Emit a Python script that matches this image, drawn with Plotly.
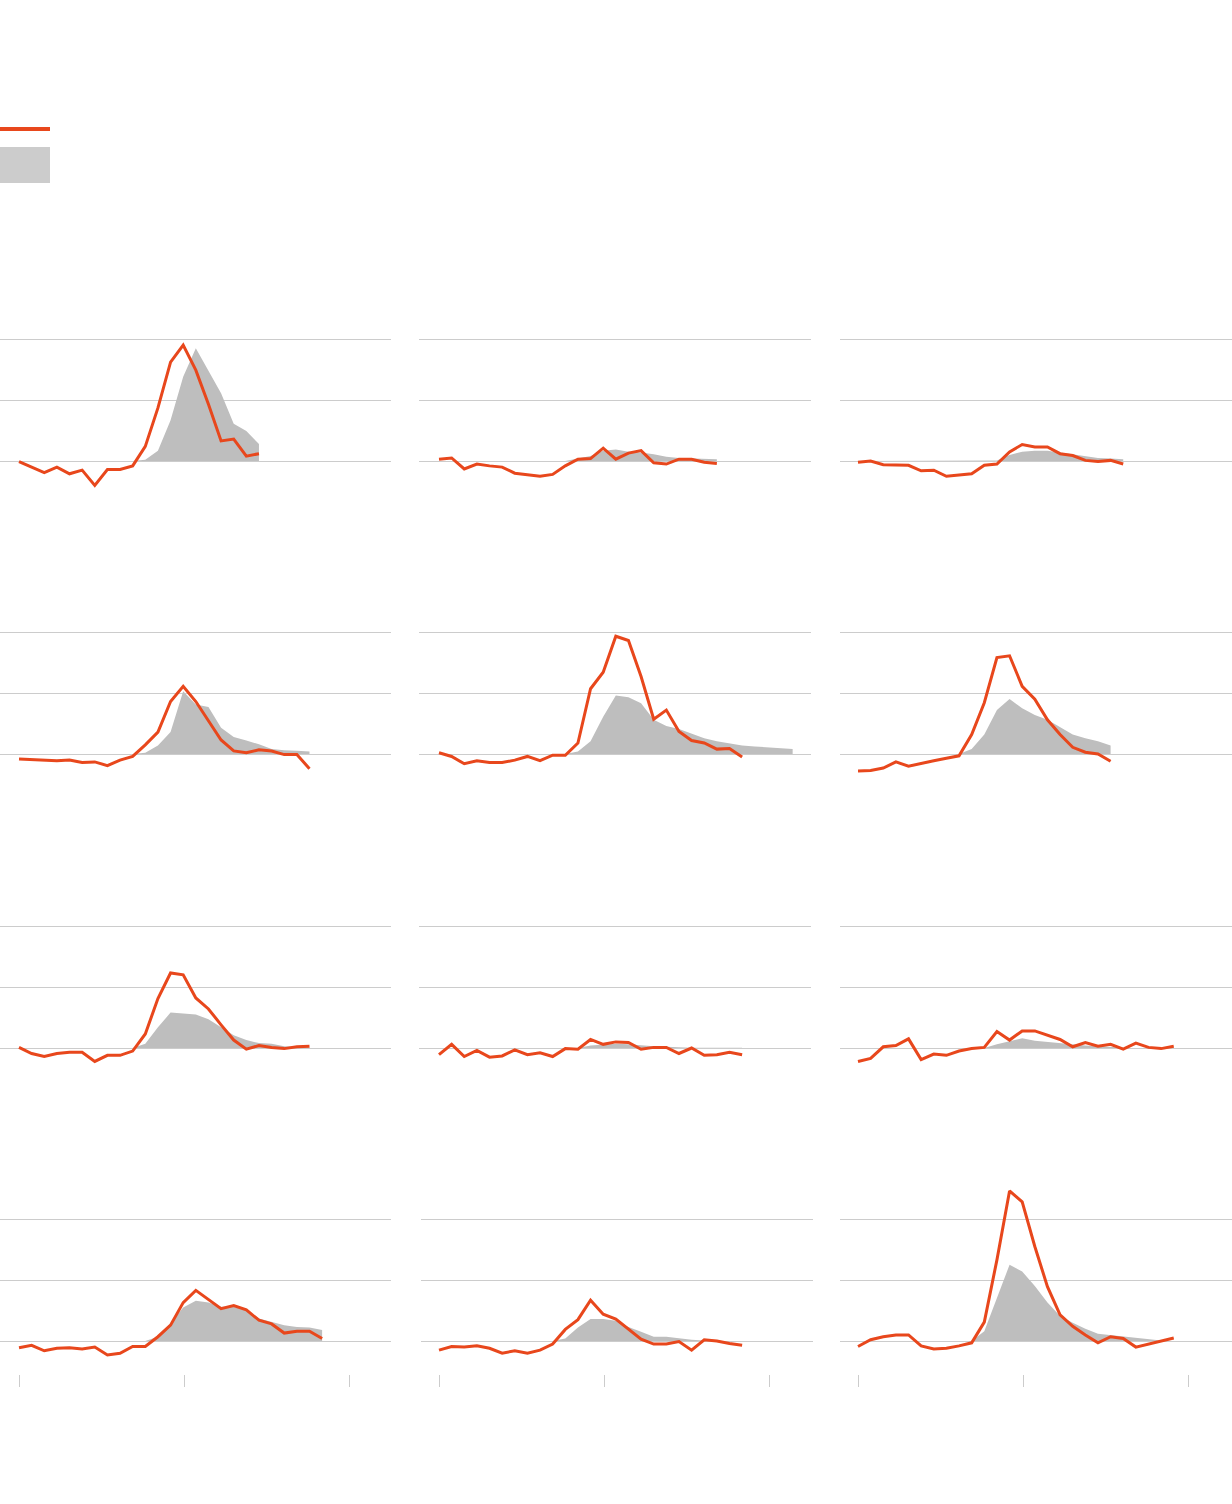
import plotly.graph_objects as go

# red line = this season, grey area = typical season (values relative to baseline)
red_1 = [-0.01, -0.10, -0.19, -0.10, -0.21, -0.15, -0.40, -0.14, -0.14, -0.08, 0.24, 0.87, 1.62, 1.90, 1.49, 0.93, 0.33, 0.36, 0.08, 0.12]
grey_1 = [0, 0, 0, 0, 0, 0, 0, 0, 0, 0, 0.02, 0.17, 0.67, 1.38, 1.85, 1.49, 1.11, 0.61, 0.49, 0.28]

red_2 = [0.03, 0.05, -0.13, -0.05, -0.08, -0.10, -0.20, -0.22, -0.25, -0.22, -0.08, 0.03, 0.04, 0.21, 0.03, 0.13, 0.17, -0.03, -0.05, 0.03, 0.03, -0.02, -0.04]
grey_2 = [0, 0, 0, 0, 0, 0, 0, 0, 0, 0, 0, 0.04, 0.08, 0.17, 0.19, 0.15, 0.14, 0.11, 0.07, 0.05, 0.04, 0.03, 0.03]

red_3 = [-0.02, 0.00, -0.06, -0.07, -0.07, -0.16, -0.15, -0.25, -0.23, -0.21, -0.07, -0.05, 0.15, 0.27, 0.23, 0.23, 0.12, 0.09, 0.01, -0.01, 0.01, -0.05]
grey_3 = [0, 0, 0, 0, 0, 0, 0, 0, 0, 0, 0, 0.01, 0.10, 0.15, 0.17, 0.17, 0.14, 0.11, 0.07, 0.05, 0.04, 0.03]

red_4 = [-0.08, -0.09, -0.11, -0.11, -0.10, -0.14, -0.13, -0.19, -0.10, -0.04, 0.15, 0.36, 0.86, 1.11, 0.86, 0.54, 0.23, 0.05, 0.02, 0.07, 0.05, -0.01, -0.01, -0.24]
grey_4 = [0, 0, 0, 0, 0, 0, 0, 0, 0, 0, 0.02, 0.14, 0.36, 1.03, 0.81, 0.77, 0.43, 0.28, 0.22, 0.16, 0.08, 0.06, 0.055, 0.04]

red_5 = [0.02, -0.04, -0.16, -0.11, -0.14, -0.14, -0.10, -0.04, -0.11, -0.02, -0.02, 0.18, 1.07, 1.34, 1.93, 1.86, 1.27, 0.57, 0.72, 0.37, 0.22, 0.18, 0.08, 0.09, -0.05]
grey_5 = [0, 0, 0, 0, 0, 0, 0, 0, 0, 0, 0, 0.04, 0.21, 0.61, 0.96, 0.93, 0.83, 0.56, 0.46, 0.41, 0.33, 0.26, 0.21, 0.17, 0.14, 0.125, 0.11, 0.09, 0.08]

red_6 = [-0.28, -0.27, -0.23, -0.13, -0.20, -0.15, -0.11, -0.07, -0.03, 0.32, 0.84, 1.58, 1.61, 1.11, 0.90, 0.56, 0.32, 0.11, 0.03, 0.00, -0.12]
grey_6 = [0, 0, 0, 0, 0, 0, 0, 0, 0, 0.08, 0.32, 0.72, 0.90, 0.75, 0.64, 0.56, 0.44, 0.32, 0.26, 0.21, 0.14]

red_7 = [0.01, -0.09, -0.14, -0.09, -0.07, -0.07, -0.22, -0.12, -0.12, -0.05, 0.23, 0.81, 1.23, 1.20, 0.82, 0.64, 0.38, 0.13, -0.02, 0.04, 0.01, -0.01, 0.02, 0.03]
grey_7 = [0, 0, 0, 0, 0, 0, 0, 0, 0, 0, 0.07, 0.34, 0.58, 0.56, 0.55, 0.47, 0.34, 0.21, 0.13, 0.08, 0.07, 0.03, 0.02, 0.01]

red_8 = [-0.11, 0.06, -0.14, -0.04, -0.15, -0.13, -0.03, -0.11, -0.08, -0.14, -0.01, -0.02, 0.14, 0.06, 0.10, 0.09, -0.02, 0.01, 0.01, -0.09, 0.00, -0.12, -0.11, -0.07, -0.11]
grey_8 = [0, 0, 0, 0, 0, 0, 0, 0, 0, 0, 0, 0, 0.04, 0.06, 0.07, 0.06, 0.04, 0.03, 0.02, 0.01, 0.005, 0.005, 0.005, 0.005, 0.005]

red_9 = [-0.22, -0.17, 0.02, 0.04, 0.15, -0.19, -0.10, -0.12, -0.05, -0.01, 0.01, 0.27, 0.13, 0.28, 0.28, 0.21, 0.14, 0.02, 0.09, 0.03, 0.06, -0.02, 0.08, 0.01, -0.01, 0.03]
grey_9 = [0, 0, 0, 0, 0, 0, 0, 0, 0, 0, 0, 0.06, 0.11, 0.16, 0.12, 0.10, 0.08, 0.05, 0.04, 0.03, 0.02, 0.01]

red_10 = [-0.11, -0.07, -0.16, -0.12, -0.11, -0.13, -0.10, -0.23, -0.20, -0.09, -0.09, 0.07, 0.26, 0.63, 0.83, 0.68, 0.53, 0.58, 0.51, 0.34, 0.28, 0.13, 0.16, 0.16, 0.04]
grey_10 = [0, 0, 0, 0, 0, 0, 0, 0, 0, 0, 0, 0.07, 0.29, 0.55, 0.66, 0.63, 0.56, 0.56, 0.51, 0.37, 0.32, 0.26, 0.23, 0.22, 0.18]

red_11 = [-0.15, -0.09, -0.10, -0.08, -0.12, -0.20, -0.16, -0.20, -0.15, -0.05, 0.19, 0.35, 0.67, 0.44, 0.36, 0.19, 0.03, -0.05, -0.05, -0.01, -0.15, 0.02, 0.00, -0.04, -0.07]
grey_11 = [0, 0, 0, 0, 0, 0, 0, 0, 0, 0, 0.04, 0.22, 0.36, 0.36, 0.33, 0.23, 0.15, 0.07, 0.07, 0.04, 0.02, 0.01, 0.005]

red_12 = [-0.09, 0.02, 0.07, 0.10, 0.10, -0.08, -0.13, -0.12, -0.08, -0.03, 0.31, 1.33, 2.46, 2.28, 1.55, 0.89, 0.43, 0.24, 0.10, -0.03, 0.07, 0.04, -0.10, -0.05, -0.01, 0.05]
grey_12 = [0, 0, 0, 0, 0, 0, 0, 0, 0, 0, 0.16, 0.71, 1.25, 1.14, 0.90, 0.63, 0.41, 0.30, 0.20, 0.12, 0.10, 0.07, 0.05, 0.03, 0.01]

reds = [red_1, red_2, red_3, red_4, red_5, red_6, red_7, red_8, red_9, red_10, red_11, red_12]
greys = [grey_1, grey_2, grey_3, grey_4, grey_5, grey_6, grey_7, grey_8, grey_9, grey_10, grey_11, grey_12]

grid_vals = [0, 1, 2]
tick_vals = [0, 13.1, 26.2]

RED = '#e8471c'
GREY = '#bebebe'
W, H = 1232, 1504

# panel geometry in pixels
col_px = [(0, 391, 19), (419, 811, 439), (840, 1232, 858)]   # left, right, first point
base_px = [461, 754, 1048, 1341]                          # y of zero line
unit = 61.0                                               # px per 1.0
step = 12.63                                              # px per week
y_lo, y_hi = -0.541, 2.6

fig = go.Figure()
layout = {}

for i in range(12):
    r, c = divmod(i, 3)
    n = i + 1
    ax = '' if n == 1 else str(n)
    left, right, x0 = col_px[c]
    if i == 10:
        # last row, middle panel sits a couple of px to the right
        left, right = left + 2, right + 2
    b = base_px[r]
    top = b - y_hi * unit
    bot = b - y_lo * unit

    fig.add_trace(go.Scatter(
        x=list(range(len(greys[i]))), y=greys[i], mode='lines',
        line=dict(width=0, color=GREY), fill='tozeroy', fillcolor=GREY,
        xaxis='x' + ax, yaxis='y' + ax, showlegend=False, hoverinfo='skip'))
    fig.add_trace(go.Scatter(
        x=list(range(len(reds[i]))), y=reds[i], mode='lines',
        line=dict(width=3, color=RED), xaxis='x' + ax, yaxis='y' + ax,
        showlegend=False))

    layout['xaxis' + ax] = dict(
        domain=[left / W, right / W], anchor='y' + ax,
        range=[(left - x0) / step, (right - x0) / step],
        showgrid=False, zeroline=False, showline=False,
        tickvals=tick_vals, showticklabels=False,
        ticks='outside' if r == 3 else '', ticklen=12, tickwidth=1, tickcolor='#cccccc')
    layout['yaxis' + ax] = dict(
        domain=[1 - bot / H, 1 - top / H], anchor='x' + ax,
        range=[y_lo, y_hi], tickvals=grid_vals, showticklabels=False,
        showgrid=True, gridcolor='#cccccc', gridwidth=1, zeroline=False, showline=False)

fig.update_layout(**layout)

# key swatches top-left
fig.add_shape(type='line', xref='paper', yref='paper',
              x0=0, x1=50 / W, y0=1 - 129 / H, y1=1 - 129 / H,
              line=dict(color=RED, width=4))
fig.add_shape(type='rect', xref='paper', yref='paper',
              x0=0, x1=50 / W, y0=1 - 183 / H, y1=1 - 147 / H,
              fillcolor='#cccccc', line=dict(width=0))

fig.update_layout(
    width=W, height=H,
    margin=dict(l=0, r=0, t=0, b=0),
    paper_bgcolor='white', plot_bgcolor='white',
    showlegend=False,
    font=dict(family='Roboto')
)

# drop the browser's default body margin so the figure sits at the page corner
fig.write_html("out.html", config={'displayModeBar': False},
               post_script="document.body.style.margin='0';")
